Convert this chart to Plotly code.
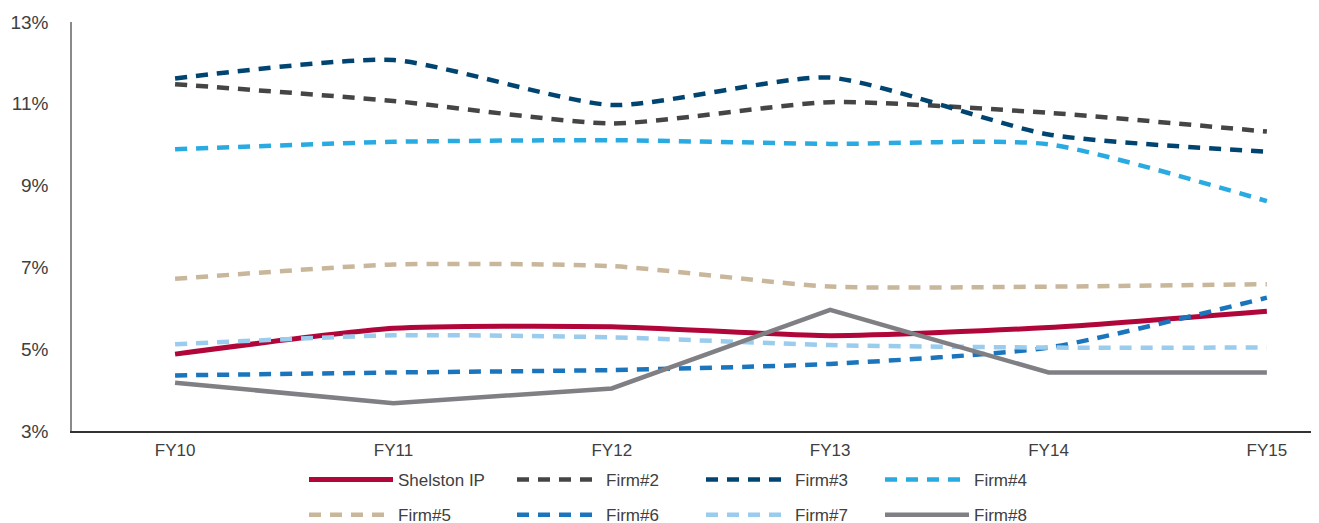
import plotly.graph_objects as go

categories = ["FY10", "FY11", "FY12", "FY13", "FY14", "FY15"]
series_names = ["Shelston IP", "Firm#2", "Firm#3", "Firm#4", "Firm#5", "Firm#6", "Firm#7", "Firm#8"]
shelston = [4.88, 5.51, 5.55, 5.33, 5.53, 5.93]
firm2 = [11.48, 11.07, 10.52, 11.04, 10.78, 10.32]
firm3 = [11.62, 12.07, 10.97, 11.64, 10.25, 9.83]
firm4 = [9.89, 10.07, 10.11, 10.02, 10.01, 8.62]
firm5 = [6.72, 7.07, 7.03, 6.53, 6.53, 6.59]
firm6 = [4.36, 4.43, 4.49, 4.64, 5.04, 6.26]
firm7 = [5.12, 5.34, 5.29, 5.10, 5.04, 5.04]
firm8 = [4.18, 3.68, 4.04, 5.96, 4.43, 4.43]
y_ticks = [3, 5, 7, 9, 11, 13]

values = [shelston, firm2, firm3, firm4, firm5, firm6, firm7, firm8]
colors = ["#B0063A", "#454545", "#004471", "#29ABE2", "#C9B79C", "#1A75BC", "#9ACCEE", "#7F7F84"]
dashes = ["solid", "12px,9px", "12px,9px", "12px,9px", "12px,9px", "12px,9px", "12px,9px", "solid"]
shapes_ = ["spline", "spline", "spline", "spline", "spline", "spline", "spline", "linear"]
widths = [5, 4.5, 4.5, 4.5, 4.5, 4.5, 4.5, 4.5]
# legend column assignment: row 1 = first four series, row 2 = last four
legend_ids = ["legend", "legend2", "legend3", "legend4", "legend", "legend2", "legend3", "legend4"]

x_idx = list(range(len(categories)))
FONT = "Liberation Sans, Arial, sans-serif"
W, H = 1319, 523

fig = go.Figure()
for i, name in enumerate(series_names):
    fig.add_trace(go.Scatter(
        x=x_idx, y=values[i], name=name, mode="lines",
        line=dict(color=colors[i], width=widths[i], dash=dashes[i], shape=shapes_[i], smoothing=0.6),
        legend=legend_ids[i], legendgroup=name,
    ))

legend_common = dict(
    orientation="v", xref="container", yref="container",
    yanchor="top", xanchor="left", itemwidth=84, tracegroupgap=10,
    font=dict(family=FONT, size=17, color="#404040"),
    bgcolor="rgba(0,0,0,0)", borderwidth=0, traceorder="grouped",
)
col_x = [296, 504, 693, 872]
legend_layouts = {}
for k, lid in enumerate(["legend", "legend2", "legend3", "legend4"]):
    legend_layouts[lid] = dict(legend_common, x=col_x[k] / W, y=1 - 454 / H)

fig.update_layout(
    width=W, height=H,
    margin=dict(l=64, r=11, t=14, b=100, autoexpand=False),
    paper_bgcolor="white", plot_bgcolor="white",
    font=dict(family=FONT, size=17, color="#404040"),
    xaxis=dict(
        range=[-0.472, 5.225], tickmode="array", tickvals=x_idx, ticktext=categories,
        showgrid=False, zeroline=False, showline=True, linecolor="#333333", linewidth=1.5,
        ticks="", ticklabelstandoff=3, tickfont=dict(size=17),
    ),
    yaxis=dict(
        range=[3, 13], tickmode="array", tickvals=y_ticks, ticktext=[f"{v}%" for v in y_ticks],
        showgrid=False, zeroline=False, showline=True, linecolor="#8a8a8a", linewidth=1.5,
        ticks="", ticklabelstandoff=18, tickfont=dict(size=19),
    ),
    **legend_layouts,
)

fig.write_html("out.html")
